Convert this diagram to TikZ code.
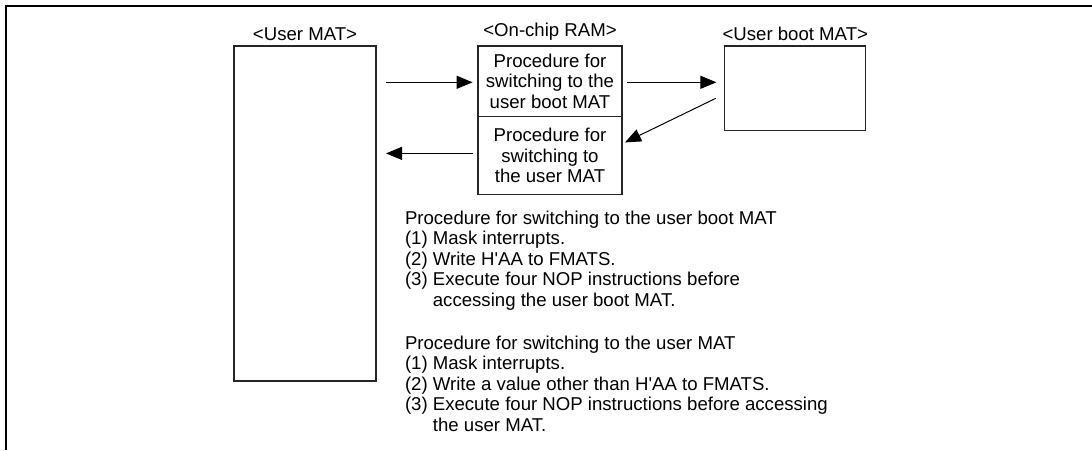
\documentclass[tikz,border=0pt]{standalone}
\usepackage{fontspec}
\setmainfont{Liberation Sans}
\usetikzlibrary{arrows.meta, positioning, calc}
\tikzset{
  mat/.style={rectangle, draw=black!85, line width=0.6pt, inner sep=1pt, outer sep=0pt,
    align=center, font=\fontsize{9.3}{10.25}\selectfont},
  heading/.style={inner sep=0pt, outer sep=0pt, font=\fontsize{9.3}{10.25}\selectfont},
  note/.style={inner sep=0pt, outer sep=0pt, align=left, font=\fontsize{9.3}{10.25}\selectfont},
  arr/.style={-{Triangle[length=8pt, width=6.5pt]}, line width=0.5pt, black},
}

\begin{document}
\begin{tikzpicture}[x=0.5pt, y=-0.5pt]
    \useasboundingbox (0,0) rectangle (1092,450);
    \draw[line width=1pt] (6,450) -- (6,6) -- (1092,6);

    \node[mat, minimum width=71pt, minimum height=167.5pt] (user) at (305,213.5) {};
    \node[mat, minimum width=72pt, minimum height=35.3pt] (ramup) at (550,81.3) {Procedure for\\switching to the\\user boot MAT};
    \node[mat, minimum width=72pt, minimum height=38.8pt, below=0pt of ramup] (ramdown) {Procedure for\\switching to\\the user MAT};
    \node[mat, minimum width=70.5pt, minimum height=42.3pt] (boot) at (795.3,88.3) {};

    \node[heading, above=2.8pt of user] (usertitle) {<User MAT>};
    \node[heading, above=2.8pt of ramup] (ramtitle) {<On-chip RAM>};
    \node[heading, above=2.8pt of boot] (boottitle) {<User boot MAT>};

    \draw[arr, shorten <=5pt, shorten >=2.7pt] ([yshift=-0.5pt]user.east |- ramup.west) -- ([yshift=-0.5pt]ramup.west);
    \draw[arr, shorten <=2.4pt, shorten >=4.2pt] ([yshift=-0.5pt]ramup.east) -- ([yshift=-0.5pt]ramup.east -| boot.west);
    \draw[arr] ($(boot.west)+(-9,10)$) -- ($(ramdown.east)+(3,-13)$);
    \draw[arr, shorten <=2.7pt, shorten >=5pt] ([yshift=1pt]ramdown.west) -- ([yshift=1pt]ramdown.west -| user.east);

    \node[note, anchor=north west] (procboot) at (405,211) {Procedure for switching to the user boot MAT\\(1) Mask interrupts.\\(2) Write H\textquotesingle AA to FMATS.\\(3) Execute four NOP instructions before\\\hphantom{(3) }accessing the user boot MAT.};
    \node[note, below right=12.7pt and 0pt of procboot.south west] (procuser) {Procedure for switching to the user MAT\\(1) Mask interrupts.\\(2) Write a value other than H\textquotesingle AA to FMATS.\\(3) Execute four NOP instructions before accessing\\\hphantom{(3) }the user MAT.};
\end{tikzpicture}
\end{document}
